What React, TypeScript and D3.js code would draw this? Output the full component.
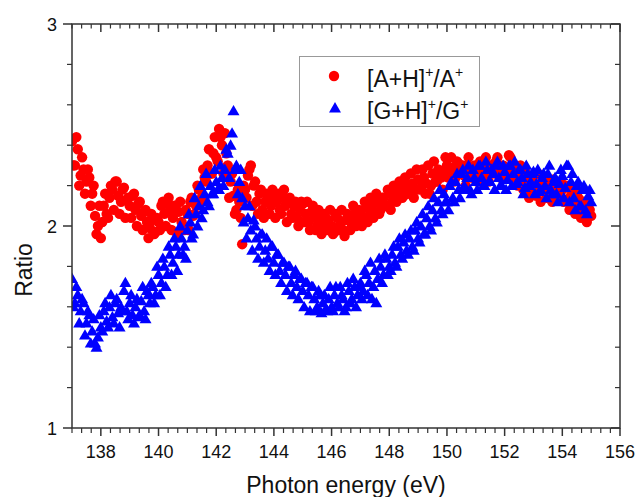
import React from "react";
import * as d3 from "d3";

// scan 1 energies (eV)
const energies: number[] = [
  137.0,137.1,137.2,137.3,137.4,137.5,137.6,137.7,137.8,137.9,
  138.0,138.1,138.2,138.3,138.4,138.5,138.6,138.7,138.8,138.9,
  139.0,139.1,139.2,139.3,139.4,139.5,139.6,139.7,139.8,139.9,
  140.0,140.1,140.2,140.3,140.4,140.5,140.6,140.7,140.8,140.9,
  141.0,141.1,141.2,141.3,141.4,141.5,141.6,141.7,141.8,141.9,
  142.0,142.1,142.2,142.3,142.4,142.5,142.6,142.7,142.8,142.9,
  143.0,143.1,143.2,143.3,143.4,143.5,143.6,143.7,143.8,143.9,
  144.0,144.1,144.2,144.3,144.4,144.5,144.6,144.7,144.8,144.9,
  145.0,145.1,145.2,145.3,145.4,145.5,145.6,145.7,145.8,145.9,
  146.0,146.1,146.2,146.3,146.4,146.5,146.6,146.7,146.8,146.9,
  147.0,147.1,147.2,147.3,147.4,147.5,147.6,147.7,147.8,147.9,
  148.0,148.1,148.2,148.3,148.4,148.5,148.6,148.7,148.8,148.9,
  149.0,149.1,149.2,149.3,149.4,149.5,149.6,149.7,149.8,149.9,
  150.0,150.1,150.2,150.3,150.4,150.5,150.6,150.7,150.8,150.9,
  151.0,151.1,151.2,151.3,151.4,151.5,151.6,151.7,151.8,151.9,
  152.0,152.1,152.2,152.3,152.4,152.5,152.6,152.7,152.8,152.9,
  153.0,153.1,153.2,153.3,153.4,153.5,153.6,153.7,153.8,153.9,
  154.0,154.1,154.2,154.3,154.4,154.5,154.6,154.7,154.8,154.9,
  155.0,
];

const ratioA: number[] = [
  2.42,2.30,2.38,2.25,2.28,2.22,2.24,2.16,2.05,2.00,
  1.94,2.10,2.06,2.14,2.18,2.22,2.15,2.12,2.19,2.13,
  2.10,2.15,2.08,2.11,2.05,2.07,2.02,1.99,2.03,1.97,
  2.02,2.10,2.06,2.11,2.08,2.04,2.10,2.07,2.02,1.98,
  2.06,2.12,2.05,2.10,2.18,2.14,2.24,2.30,2.26,2.36,
  2.34,2.48,2.40,2.46,2.30,2.22,2.15,2.08,2.12,1.91,
  2.18,2.25,2.30,2.20,2.12,2.16,2.08,2.12,2.14,2.10,
  2.15,2.12,2.08,2.14,2.10,2.12,2.06,2.10,2.04,2.08,
  2.11,2.06,2.02,2.07,2.04,2.00,2.05,2.02,1.99,2.03,
  2.00,1.97,2.04,2.01,1.98,2.03,2.05,2.01,2.06,2.03,
  2.07,2.04,2.09,2.05,2.10,2.07,2.12,2.08,2.14,2.10,
  2.16,2.12,2.17,2.14,2.19,2.15,2.20,2.17,2.21,2.18,
  2.23,2.19,2.24,2.21,2.16,2.26,2.22,2.28,2.24,2.27,
  2.30,2.26,2.29,2.24,2.31,2.28,2.25,2.30,2.27,2.24,
  2.29,2.26,2.31,2.28,2.25,2.30,2.27,2.32,2.26,2.29,
  2.24,2.28,2.34,2.30,2.26,2.29,2.22,2.27,2.18,2.24,
  2.21,2.15,2.20,2.24,2.17,2.22,2.19,2.23,2.16,2.20,
  2.18,2.13,2.19,2.15,2.10,2.16,2.08,2.12,2.06,2.10,
  2.05,
];

const ratioG: number[] = [
  1.74,1.62,1.66,1.58,1.62,1.52,1.56,1.48,1.42,1.45,
  1.50,1.58,1.53,1.60,1.55,1.62,1.57,1.60,1.68,1.58,
  1.62,1.56,1.60,1.55,1.63,1.58,1.68,1.62,1.70,1.66,
  1.76,1.72,1.80,1.76,1.86,1.82,1.90,1.86,1.94,1.90,
  1.98,2.02,1.96,2.06,2.10,2.04,2.16,2.12,2.20,2.16,
  2.22,2.18,2.24,2.28,2.36,2.40,2.57,2.30,2.22,2.14,
  2.10,2.04,1.98,2.03,1.94,1.90,1.96,1.88,1.84,1.90,
  1.82,1.86,1.78,1.82,1.76,1.80,1.72,1.76,1.70,1.74,
  1.68,1.72,1.66,1.70,1.64,1.60,1.66,1.62,1.59,1.64,
  1.60,1.66,1.62,1.70,1.64,1.60,1.68,1.64,1.70,1.66,
  1.72,1.68,1.76,1.72,1.64,1.78,1.74,1.80,1.76,1.84,
  1.80,1.86,1.82,1.90,1.86,1.92,1.88,1.94,1.90,1.98,
  1.94,2.00,1.96,2.04,2.00,2.08,2.04,2.12,2.08,2.16,
  2.12,2.20,2.14,2.22,2.18,2.26,2.20,2.24,2.18,2.28,
  2.22,2.30,2.24,2.20,2.28,2.22,2.26,2.30,2.24,2.20,
  2.27,2.23,2.30,2.26,2.21,2.28,2.24,2.19,2.26,2.22,
  2.27,2.21,2.17,2.24,2.20,2.26,2.18,2.22,2.16,2.21,
  2.25,2.19,2.30,2.22,2.14,2.20,2.10,2.18,2.08,2.15,
  2.12,
];

// scan 2 energies (eV)
const energies2: number[] = [
  137.05,137.15,137.25,137.35,137.45,137.55,137.65,137.75,137.85,137.95,
  138.05,138.15,138.25,138.35,138.45,138.55,138.65,138.75,138.85,138.95,
  139.05,139.15,139.25,139.35,139.45,139.55,139.65,139.75,139.85,139.95,
  140.05,140.15,140.25,140.35,140.45,140.55,140.65,140.75,140.85,140.95,
  141.05,141.15,141.25,141.35,141.45,141.55,141.65,141.75,141.85,141.95,
  142.05,142.15,142.25,142.35,142.45,142.55,142.65,142.75,142.85,142.95,
  143.05,143.15,143.25,143.35,143.45,143.55,143.65,143.75,143.85,143.95,
  144.05,144.15,144.25,144.35,144.45,144.55,144.65,144.75,144.85,144.95,
  145.05,145.15,145.25,145.35,145.45,145.55,145.65,145.75,145.85,145.95,
  146.05,146.15,146.25,146.35,146.45,146.55,146.65,146.75,146.85,146.95,
  147.05,147.15,147.25,147.35,147.45,147.55,147.65,147.75,147.85,147.95,
  148.05,148.15,148.25,148.35,148.45,148.55,148.65,148.75,148.85,148.95,
  149.05,149.15,149.25,149.35,149.45,149.55,149.65,149.75,149.85,149.95,
  150.05,150.15,150.25,150.35,150.45,150.55,150.65,150.75,150.85,150.95,
  151.05,151.15,151.25,151.35,151.45,151.55,151.65,151.75,151.85,151.95,
  152.05,152.15,152.25,152.35,152.45,152.55,152.65,152.75,152.85,152.95,
  153.05,153.15,153.25,153.35,153.45,153.55,153.65,153.75,153.85,153.95,
  154.05,154.15,154.25,154.35,154.45,154.55,154.65,154.75,154.85,154.95,
];

const ratioA2: number[] = [
  2.30,2.44,2.20,2.34,2.16,2.28,2.10,2.20,1.96,2.10,
  2.02,2.16,2.04,2.20,2.08,2.22,2.06,2.18,2.04,2.14,
  2.04,2.16,2.00,2.12,1.98,2.08,1.94,2.06,1.96,2.04,
  1.98,2.12,2.00,2.14,1.98,2.10,1.96,2.12,2.00,2.08,
  1.98,2.14,2.06,2.20,2.12,2.28,2.22,2.38,2.26,2.44,
  2.32,2.44,2.26,2.36,2.14,2.26,2.06,2.18,2.04,2.20,
  2.14,2.28,2.10,2.22,2.06,2.18,2.04,2.16,2.06,2.18,
  2.04,2.16,2.06,2.18,2.02,2.14,2.04,2.12,2.00,2.12,
  2.02,2.12,1.98,2.10,1.98,2.08,1.96,2.06,1.98,2.08,
  1.96,2.06,1.98,2.08,1.95,2.06,1.98,2.10,2.00,2.08,
  2.00,2.12,2.02,2.14,2.04,2.16,2.06,2.14,2.10,2.18,
  2.08,2.20,2.12,2.22,2.14,2.24,2.16,2.26,2.14,2.28,
  2.18,2.28,2.16,2.30,2.20,2.32,2.22,2.26,2.18,2.34,
  2.24,2.34,2.22,2.32,2.26,2.30,2.20,2.34,2.24,2.30,
  2.22,2.32,2.24,2.34,2.22,2.30,2.26,2.34,2.24,2.30,
  2.26,2.35,2.24,2.30,2.20,2.30,2.18,2.26,2.14,2.24,
  2.18,2.26,2.12,2.24,2.14,2.22,2.12,2.20,2.14,2.22,
  2.12,2.20,2.08,2.18,2.06,2.14,2.04,2.12,2.02,2.08,
];

const ratioG2: number[] = [
  1.60,1.70,1.52,1.64,1.46,1.58,1.42,1.54,1.40,1.56,
  1.48,1.62,1.50,1.66,1.52,1.64,1.50,1.58,1.72,1.54,
  1.66,1.52,1.64,1.56,1.70,1.54,1.66,1.72,1.62,1.80,
  1.66,1.84,1.70,1.90,1.76,1.94,1.78,2.00,1.86,1.84,
  2.06,1.94,2.14,2.00,2.20,2.08,2.26,2.10,2.16,2.28,
  2.18,2.30,2.20,2.38,2.24,2.46,2.28,2.16,2.28,2.02,
  1.94,2.10,1.88,2.00,1.84,1.96,1.82,1.94,1.78,1.90,
  1.76,1.86,1.72,1.82,1.68,1.80,1.66,1.78,1.64,1.74,
  1.60,1.72,1.58,1.70,1.58,1.68,1.57,1.66,1.58,1.70,
  1.58,1.70,1.60,1.66,1.58,1.72,1.62,1.74,1.60,1.70,
  1.64,1.78,1.66,1.82,1.70,1.62,1.84,1.72,1.86,1.76,
  1.78,1.90,1.80,1.94,1.84,1.96,1.86,1.98,1.88,2.02,
  1.92,2.06,1.96,2.10,1.98,2.14,2.02,2.18,2.06,2.12,
  2.08,2.22,2.12,2.26,2.14,2.28,2.18,2.30,2.16,2.24,
  2.18,2.30,2.20,2.32,2.22,2.28,2.18,2.32,2.20,2.30,
  2.18,2.30,2.20,2.32,2.22,2.28,2.16,2.30,2.20,2.26,
  2.16,2.28,2.18,2.26,2.14,2.30,2.16,2.24,2.12,2.28,
  2.14,2.30,2.12,2.26,2.08,2.22,2.10,2.20,2.06,2.18,
];

const xMajorTicks: number[] = [138, 140, 142, 144, 146, 148, 150, 152, 154, 156];
const yMajorTicks: number[] = [1, 2, 3];
const xLabel = "Photon energy (eV)";
const yLabel = "Ratio";

const W = 638, H = 497;
const L = 72, R = 620, T = 24, B = 428;
const FONT = "'Liberation Sans', Arial, sans-serif";
const AXIS = "#333";

export default function App() {
  const x = d3.scaleLinear().domain([137, 156]).range([L, R]);
  const y = d3.scaleLinear().domain([1, 3]).range([B, T]);
  const xMinor = d3.range(0, 58).map((k) => 137 + k / 3).filter((v) => v <= 156.001 && Math.abs(v - Math.round(v / 2) * 2) > 0.01);
  const yMinor = d3.range(0, 11).map((k) => 1 + k * 0.2).filter((v) => Math.abs(v - Math.round(v)) > 0.01);
  const tri = d3.symbol().type(d3.symbolTriangle).size(62)();
  const ptsA = [
    ...energies.map((e, i) => [e, ratioA[i]]),
    ...energies2.map((e, i) => [e, ratioA2[i]]),
  ];
  const ptsG = [
    ...energies.map((e, i) => [e, ratioG[i]]),
    ...energies2.map((e, i) => [e, ratioG2[i]]),
  ];

  return (
    <svg width={W} height={H} style={{ position: "absolute", left: 0, top: 0, background: "#fff" }}>
      <defs>
        <clipPath id="plotclip">
          <rect x={L} y={T} width={R - L} height={B - T} />
        </clipPath>
      </defs>
      <rect x={0} y={0} width={W} height={H} fill="#fff" />
      <g clipPath="url(#plotclip)">
        {ptsA.map((p, i) => (
          <circle key={"a" + i} cx={x(p[0])} cy={y(p[1])} r={5.2} fill="#ff0000" />
        ))}
        {ptsG.map((p, i) => (
          <path key={"g" + i} d={tri!} transform={`translate(${x(p[0])},${y(p[1]) + 1})`} fill="#0000ff" />
        ))}
      </g>
      <rect x={L} y={T} width={R - L} height={B - T} fill="none" stroke={AXIS} strokeWidth={1.5} />
      {xMajorTicks.map((t) => (
        <g key={"xm" + t}>
          <line x1={x(t)} x2={x(t)} y1={B} y2={B + 8} stroke={AXIS} strokeWidth={1.5} />
          <line x1={x(t)} x2={x(t)} y1={T} y2={T + 8} stroke={AXIS} strokeWidth={1.5} />
          <text x={x(t)} y={458} fontSize={18} fontFamily={FONT} textAnchor="middle" fill="#111">{t}</text>
        </g>
      ))}
      {xMinor.map((t, i) => (
        <g key={"xn" + i}>
          <line x1={x(t)} x2={x(t)} y1={B} y2={B + 5} stroke={AXIS} strokeWidth={1.2} />
          <line x1={x(t)} x2={x(t)} y1={T} y2={T + 4.5} stroke={AXIS} strokeWidth={1.2} />
        </g>
      ))}
      {yMajorTicks.map((t) => (
        <g key={"ym" + t}>
          <line x1={L - 9} x2={L} y1={y(t)} y2={y(t)} stroke={AXIS} strokeWidth={1.5} />
          <line x1={R - 9} x2={R} y1={y(t)} y2={y(t)} stroke={AXIS} strokeWidth={1.5} />
          <text x={57} y={y(t) + 6.5} fontSize={18} fontFamily={FONT} textAnchor="end" fill="#111">{t}</text>
        </g>
      ))}
      {yMinor.map((t, i) => (
        <g key={"yn" + i}>
          <line x1={L - 5} x2={L} y1={y(t)} y2={y(t)} stroke={AXIS} strokeWidth={1.2} />
          <line x1={R - 5} x2={R} y1={y(t)} y2={y(t)} stroke={AXIS} strokeWidth={1.2} />
        </g>
      ))}
      <text x={(L + R) / 2} y={493} fontSize={23} fontFamily={FONT} textAnchor="middle" fill="#111">{xLabel}</text>
      <text transform={`translate(32,270) rotate(-90)`} fontSize={23} fontFamily={FONT} textAnchor="middle" fill="#111">{yLabel}</text>
      <g>
        <rect x={299.5} y={56.5} width={180} height={70} fill="#fff" stroke="#999" strokeWidth={1} />
        <circle cx={334} cy={76} r={5.2} fill="#ff0000" />
        <path d={tri!} transform="translate(335,109)" fill="#0000ff" />
        <text x={367} y={87} fontSize={23} fontFamily={FONT} fill="#111">
          [A+H]<tspan dy={-10} fontSize={14}>+</tspan><tspan dy={10}>/A</tspan><tspan dy={-10} fontSize={14}>+</tspan>
        </text>
        <text x={367} y={119} fontSize={23} fontFamily={FONT} fill="#111">
          [G+H]<tspan dy={-10} fontSize={14}>+</tspan><tspan dy={10}>/G</tspan><tspan dy={-10} fontSize={14}>+</tspan>
        </text>
      </g>
    </svg>
  );
}
